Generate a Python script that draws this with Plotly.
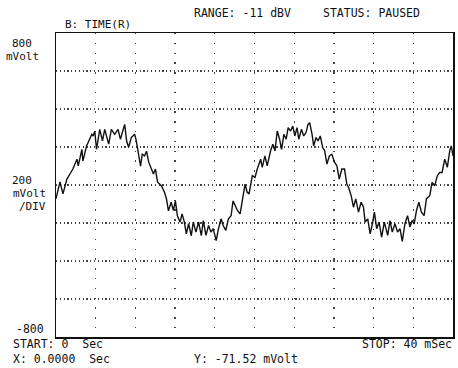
import plotly.graph_objects as go

# ---- data (time in ms, amplitude in mV) ----
t_ms = [0.0, 0.40, 0.70, 1.10, 1.40, 1.70, 2.11, 2.24, 2.61, 2.71,
        3.08, 3.31, 3.61, 3.74, 3.91, 4.08, 4.41, 4.68, 4.91, 5.31,
        5.58, 5.91, 6.25, 6.49, 6.75, 6.92, 7.12, 7.32, 7.59, 7.92,
        8.09, 8.22, 8.52, 8.69, 8.92, 9.12, 9.35, 9.62, 9.82, 10.02,
        10.23, 10.63, 10.93, 11.13, 11.33, 11.60, 11.83, 12.03, 12.23, 12.50,
        12.70, 12.93, 13.13, 13.36, 13.63, 13.83, 14.10, 14.37, 14.64, 14.84,
        15.11, 15.37, 15.61, 15.84, 16.14, 16.37, 16.64, 16.84, 17.11, 17.37,
        17.64, 17.84, 18.05, 18.28, 18.55, 18.78, 19.05, 19.25, 19.45, 19.78,
        20.05, 20.28, 20.62, 20.78, 21.05, 21.28, 21.62, 21.85, 22.06, 22.29,
        22.53, 22.73, 22.96, 23.19, 23.39, 23.63, 23.86, 24.06, 24.29, 24.46,
        24.73, 24.96, 25.19, 25.39, 25.56, 25.80, 25.96, 26.20, 26.40, 26.63,
        26.87, 27.07, 27.30, 27.54, 27.80, 28.07, 28.30, 28.54, 28.80, 29.07,
        29.30, 29.47, 29.74, 29.97, 30.20, 30.48, 30.74, 30.98, 31.15, 31.41,
        31.65, 31.88, 32.08, 32.31, 32.55, 32.81, 33.08, 33.42, 33.65, 33.88,
        34.15, 34.42, 34.66, 34.89, 35.16, 35.42, 35.66, 35.89, 36.09, 36.32,
        36.56, 36.82, 37.09, 37.32, 37.66, 37.89, 38.16, 38.42, 38.66, 38.90,
        39.17, 39.43, 39.67, 39.83, 40.00]

v_mV = [-72, 16, -47, 31, 58, 84, 136, 101, 188, 126,
        206, 230, 267, 258, 283, 188, 293, 232, 293, 215,
        293, 267, 293, 241, 284, 319, 230, 199, 250, 267,
        232, 188, 99, 162, 153, 178, 119, 84, 58, 84,
        16, -5, -38, -73, -136, -91, -134, -84, -162, -195,
        -152, -194, -257, -204, -267, -195, -248, -195, -267, -188,
        -265, -213, -248, -230, -293, -230, -178, -213, -239, -178,
        -162, -84, -108, -134, -152, -82, 5, -37, -47, 49,
        40, 84, 136, 93, 153, 101, 180, 215, 180, 284,
        241, 188, 267, 241, 302, 284, 310, 258, 302, 241,
        293, 258, 276, 319, 328, 267, 206, 250, 232, 258,
        197, 180, 110, 153, 162, 119, 101, 31, 84, 84,
        5, -12, -56, -117, -73, -143, -91, -117, -195, -178,
        -257, -204, -143, -230, -195, -274, -195, -265, -187, -248,
        -204, -248, -230, -297, -204, -161, -221, -187, -204, -134,
        -91, -143, -161, -73, -56, 14, -4, 49, 66, 66,
        136, 93, 180, 206, 153]

x_start, x_stop, x_div = 0, 40, 4
y_min, y_max, y_div = -800, 800, 200

header_left = "B: TIME(R)"
header_range = "RANGE: -11 dBV"
header_status = "STATUS: PAUSED"
y_top_label = ["800", "mVolt"]
y_mid_label = ["200", "mVolt", "/DIV"]
y_bot_label = "-800"
footer_start = "START: 0  Sec"
footer_stop = "STOP: 40 mSec"
cursor_x = "X: 0.0000  Sec"
cursor_y = "Y: -71.52 mVolt"

W, H = 458, 368
ML, MR, MT, MB = 56, 3, 33, 31
PW, PH = W - ML - MR, H - MT - MB

FONT = "DejaVu Sans Mono"


def px(xp):
    return (xp - ML) / PW


def py(yp):
    return (H - MB - yp) / PH


fig = go.Figure()
fig.add_trace(go.Scatter(x=t_ms, y=v_mV, mode="lines",
                         line=dict(color="#111111", width=1.4),
                         hoverinfo="skip", showlegend=False))

fig.update_xaxes(range=[x_start, x_stop], dtick=x_div, tick0=0,
                 showticklabels=False, ticks="",
                 showgrid=True, gridcolor="#444444", gridwidth=1.3,
                 griddash="1.3px,8.5px", zeroline=False,
                 showline=True, mirror=True, linecolor="#111111", linewidth=1.5)
fig.update_yaxes(range=[y_min, y_max], dtick=y_div, tick0=0,
                 showticklabels=False, ticks="",
                 showgrid=True, gridcolor="#444444", gridwidth=1.2,
                 griddash="1.2px,2.6px", zeroline=False,
                 showline=True, mirror=True, linecolor="#111111", linewidth=1.5)

anns = []


def txt(s, xp, yp, anchor="left", size=11.5):
    anns.append(dict(text=s, xref="paper", yref="paper", x=px(xp), y=py(yp),
                     xanchor=anchor, yanchor="middle", showarrow=False,
                     font=dict(family=FONT, size=size, color="#111111")))


txt(header_range, 193, 13)
txt(header_status, 322, 13)
txt(header_left, 63, 25, size=11)
txt(y_top_label[0], 34, 43, "right", size=11)
txt(y_top_label[1], 41, 56, "right", size=11)
txt(y_mid_label[0], 34, 180, "right", size=11)
txt(y_mid_label[1], 48, 193, "right", size=11)
txt(y_mid_label[2], 48, 206, "right", size=11)
txt(y_bot_label, 46, 329, "right")
txt(footer_start, 11, 344)
txt(footer_stop, 456, 344, "right")
txt(cursor_x, 11, 359)
txt(cursor_y, 193, 359)

fig.update_layout(width=W, height=H, margin=dict(l=ML, r=MR, t=MT, b=MB),
                  paper_bgcolor="white", plot_bgcolor="white",
                  annotations=anns, showlegend=False, hovermode=False)

fig.write_html("out.html", config={"displayModeBar": False, "staticPlot": True},
               post_script="document.body.style.margin='0';document.body.style.padding='0';")
